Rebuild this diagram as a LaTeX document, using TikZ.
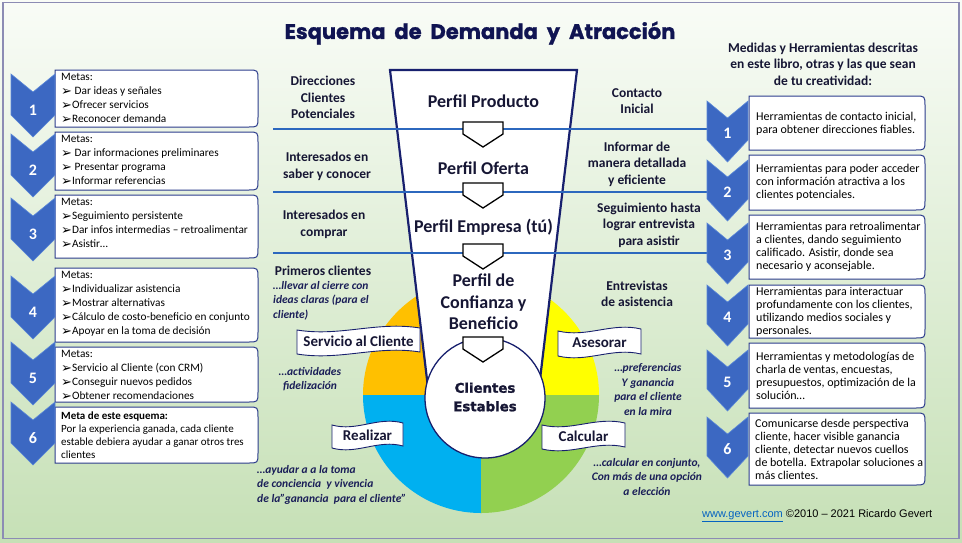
\documentclass[tikz,border=0pt]{standalone}
\usepackage{fontspec}
\setmainfont{Carlito}
\newfontfamily\titlefont{Poppins}[BoldFeatures={FakeBold=1.2}]
\newfontfamily\symfont{DejaVu Sans}
\newfontfamily\heavyfont{DejaVu Sans}[BoldFeatures={FakeBold=1.6}]
\newfontfamily\arialfont{Liberation Sans}
\usetikzlibrary{calc}

\definecolor{ink}{RGB}{22,22,52}
\definecolor{ink2}{RGB}{26,30,88}
\definecolor{titlecol}{RGB}{16,20,82}
\definecolor{chev}{RGB}{60,104,194}
\definecolor{chevedge}{RGB}{90,135,215}
\definecolor{boxline}{RGB}{44,60,140}
\definecolor{lineblue}{RGB}{44,104,190}
\definecolor{funnelline}{RGB}{24,32,110}
\definecolor{framecol}{RGB}{140,140,180}
\definecolor{bgtop}{RGB}{249,252,247}
\definecolor{bgbot}{RGB}{198,224,182}
\definecolor{porange}{RGB}{255,192,0}
\definecolor{pyellow}{RGB}{255,255,0}
\definecolor{pblue}{RGB}{0,176,240}
\definecolor{pgreen}{RGB}{146,208,80}
\definecolor{linkblue}{RGB}{5,99,193}

\newcommand\bul{\raisebox{-0.6pt}{\symfont\fontsize{13}{13}\selectfont ➢}}

\tikzset{
  chevfill/.style={fill=chev, draw=chevedge, line width=0.6},
  gbox/.style={fill=white, draw=boxline, line width=1},
  hline/.style={draw=lineblue, line width=2.4},
  pentshape/.style={fill=white, draw=black, line width=1.3},
  funnelshape/.style={fill=white, draw=funnelline, line width=2.2},
  bannerline/.style={fill=white, draw=funnelline, line width=0.9},
  numtxt/.style={text=white, font=\fontsize{16}{16}\selectfont\bfseries, inner sep=0},
  ltxt/.style={text=black, font=\fontsize{11.3}{14}\selectfont, align=left, inner sep=0, anchor=north west},
  rtxt/.style={text=black, font=\fontsize{12}{13}\selectfont, align=left, inner sep=0, anchor=west},
  lbl/.style={text=ink, font=\fontsize{13.5}{16.5}\selectfont\bfseries, align=center, inner sep=0},
  itl/.style={text=ink2, font=\fontsize{11.5}{14.5}\selectfont\bfseries\itshape, inner sep=0},
  funtxt/.style={text=ink, font=\fontsize{18}{21.5}\selectfont\bfseries, align=center, inner sep=0},
  bannertext/.style={text=ink, font=\fontsize{15}{15}\selectfont\bfseries, inner sep=0},
}

\newcommand\chevL[2]{%
  \fill[chevfill] (11,#1) -- (33,#1+18) -- (55,#1) -- (55,#1+41) -- (33,#1+63) -- (11,#1+41) -- cycle;
  \node[numtxt] (nl#2) at (33,#1+36) {#2};}
\newcommand\chevR[2]{%
  \fill[chevfill] (707,#1) -- (727.5,#1+17) -- (748,#1) -- (748,#1+39) -- (727.5,#1+61) -- (707,#1+39) -- cycle;
  \node[numtxt] (nr#2) at (727.5,#1+32) {#2};}
\newcommand\rbox[4]{%
  \draw[gbox] (#1,#2) -- (#3-10,#2) .. controls (#3,#2) .. (#3,#2+10) -- (#3,#4-10) .. controls (#3,#4) .. (#3-10,#4) -- (#1,#4) -- cycle;}
\newcommand\pent[1]{%
  \draw[pentshape] (463,#1) -- (503,#1) -- (503,#1+12) -- (483,#1+25) -- (463,#1+12) -- cycle;}
\newcommand\banner[6]{%
  \pgfmathsetmacro\bw{#4-#2}%
  \draw[bannerline] (#2,#3+3) .. controls ({#2+0.35*\bw},{#3+10}) and ({#2+0.65*\bw},{#3-6}) .. (#4,#3+1)
    -- (#4,#5-3) .. controls ({#2+0.65*\bw},{#5-10}) and ({#2+0.35*\bw},{#5+6}) .. (#2,#5-1) -- cycle;
  \node[bannertext] (#1) at ({(#2+#4)/2},{(#3+#5)/2}) {#6};}

\begin{document}
\begin{tikzpicture}[x=1pt,y=-1pt]
\useasboundingbox (0,0) rectangle (962,542);
% background and frame
\shade[top color=bgtop, bottom color=bgbot] (0,0) rectangle (962,542);
\draw[framecol, line width=1.5] (3,2.5) rectangle (959,538.5);

% title
\node[text=titlecol, font=\titlefont\bfseries\fontsize{21}{21}\selectfont, inner sep=0] (title) at (480,33) {Esquema\ \ de\ \ Demanda\ \ y\ \ Atracción};

% pie
\begin{scope}\clip (481,395) rectangle (355,270); \fill[porange] (481,395) circle[radius=118pt]; \end{scope}
\begin{scope}\clip (481,395) rectangle (610,270); \fill[pyellow] (481,395) circle[radius=118pt]; \end{scope}
\begin{scope}\clip (481,395) rectangle (355,520); \fill[pblue] (481,395) circle[radius=118pt]; \end{scope}
\begin{scope}\clip (481,395) rectangle (610,520); \fill[pgreen] (481,395) circle[radius=118pt]; \end{scope}

% funnel
\draw[funnelshape] (390,70) -- (577,70) -- (538.5,392) -- (428.5,392) -- cycle;

% horizontal lines
\draw[hline] (273,129) -- (722,129);
\draw[hline] (273,192) -- (722,192);
\draw[hline] (273,253) -- (722,253);

% circle
\draw[fill=white, draw=funnelline, line width=1.3] (485,398) circle[radius=60pt];
\node[text=ink, font=\heavyfont\bfseries\fontsize{13.3}{18.5}\selectfont, align=center, inner sep=0] (stable) at (485,397) {Clientes\\Estables};

% pentagon arrows
\pent{122}
\pent{183}
\pent{244}
\pent{337}

% funnel labels
\node[funtxt] (fp1) at (483.5,101) {Perfil Producto};
\node[funtxt] (fp2) at (483.5,168) {Perfil Oferta};
\node[funtxt] (fp3) at (483.5,227) {Perfil Empresa (tú)};
\node[funtxt] (fp4) at (483.5,302) {Perfil de\\Confianza y\\Beneficio};

% banners
\banner{bs}{297}{327}{420}{355}{Servicio al Cliente}
\banner{ba}{558}{328}{641}{357}{Asesorar}
\banner{br}{332}{422}{403}{449}{Realizar}
\banner{bc}{542}{422}{625}{450}{Calcular}

% left labels
\node[lbl] (ll1) at (323,97.5) {Direcciones\\Clientes\\Potenciales};
\node[lbl] (ll2) at (327,166.5) {Interesados en\\saber y conocer};
\node[lbl] (ll3) at (324,224.5) {Interesados en\\comprar};
\node[lbl] (ll4) at (323,271) {Primeros clientes};
\node[itl, align=left, anchor=north west] (il1) at (273,281) {…llevar al cierre con\\ideas claras (para el\\cliente)};
\node[itl, align=center] (il2) at (310,379) {…actividades\\fidelización};
\node[itl, align=left, anchor=north west] (il3) at (257,465) {…ayudar a a la toma\\de conciencia\ \ y vivencia\\de la”ganancia\ \ para el cliente”};

% right labels
\node[lbl] (rl1) at (637,101) {Contacto\\Inicial};
\node[lbl] (rl2) at (637,164) {Informar de\\manera detallada\\y eficiente};
\node[lbl] (rl3) at (649,225) {Seguimiento hasta\\lograr entrevista\\para asistir};
\node[lbl] (rl4) at (637,294) {Entrevistas\\de asistencia};
\node[itl, align=center] (ir1) at (648,389.5) {…preferencias\\Y ganancia\\para el cliente\\en la mira};
\node[itl, align=center] (ir2) at (647,476.5) {…calcular en conjunto,\\Con más de una opción\\a elección};

% left panel
\rbox{55}{70}{258}{127}
\rbox{55}{132}{258}{190}
\rbox{55}{195}{258}{258}
\rbox{55}{268}{258}{342}
\rbox{55}{347}{258}{402}
\rbox{55}{407}{258}{463}
\chevL{74}{1}
\chevL{134}{2}
\chevL{198}{3}
\chevL{276}{4}
\chevL{342}{5}
\chevL{402}{6}
\node[ltxt] (lt1) at (61,73.5) {Metas:\\\bul\ Dar ideas y señales\\\bul Ofrecer servicios\\\bul Reconocer demanda};
\node[ltxt] (lt2) at (61,135.5) {Metas:\\\bul\ Dar informaciones preliminares\\\bul\ Presentar programa\\\bul Informar referencias};
\node[ltxt] (lt3) at (61,198.5) {Metas:\\\bul Seguimiento persistente\\\bul Dar infos intermedias – retroalimentar\\\bul Asistir…};
\node[ltxt] (lt4) at (61,271.5) {Metas:\\\bul Individualizar asistencia\\\bul Mostrar alternativas\\\bul Cálculo de costo-beneficio en conjunto\\\bul Apoyar en la toma de decisión};
\node[ltxt] (lt5) at (61,350.5) {Metas:\\\bul Servicio al Cliente (con CRM)\\\bul Conseguir nuevos pedidos\\\bul Obtener recomendaciones};
\node[ltxt, font=\fontsize{11}{13}\selectfont] (lt6) at (61,411.5) {\textbf{Meta de este esquema:}\\Por la experiencia ganada, cada cliente\\estable debiera ayudar a ganar otros tres\\clientes};

% right panel
\node[lbl] (rhead) at (823,64) {Medidas y Herramientas descritas\\en este libro, otras y las que sean\\de tu creatividad:};
\rbox{749}{96}{925}{150}
\rbox{749}{155}{925}{210}
\rbox{749}{215}{925}{279}
\rbox{749}{285}{925}{338}
\rbox{749}{343}{925}{408}
\rbox{749}{413}{925}{485}
\chevR{101}{1}
\chevR{160}{2}
\chevR{223}{3}
\chevR{285}{4}
\chevR{350}{5}
\chevR{417}{6}
\node[rtxt] (rt1) at (756,123.5) {Herramientas de contacto inicial,\\para obtener direcciones fiables.};
\node[rtxt] (rt2) at (756,182.5) {Herramientas para poder acceder\\con información atractiva a los\\clientes potenciales.};
\node[rtxt] (rt3) at (756,247) {Herramientas para retroalimentar\\a clientes, dando seguimiento\\calificado. Asistir, donde sea\\necesario y aconsejable.};
\node[rtxt] (rt4) at (756,311.5) {Herramientas para interactuar\\profundamente con los clientes,\\utilizando medios sociales y\\personales.};
\node[rtxt] (rt5) at (756,375.5) {Herramientas y metodologías de\\charla de ventas, encuestas,\\presupuestos, optimización de la\\solución…};
\node[rtxt] (rt6) at (755,449) {Comunicarse desde perspectiva\\cliente, hacer visible ganancia\\cliente, detectar nuevos cuellos\\de botella. Extrapolar soluciones a\\más clientes.};

% footer
\node[anchor=west, inner sep=0, font=\arialfont\fontsize{11}{13}\selectfont] (foot) at (702,516) {\textcolor{linkblue}{\underline{www.gevert.com}} ©2010 – 2021 Ricardo Gevert};
\end{tikzpicture}
\end{document}
